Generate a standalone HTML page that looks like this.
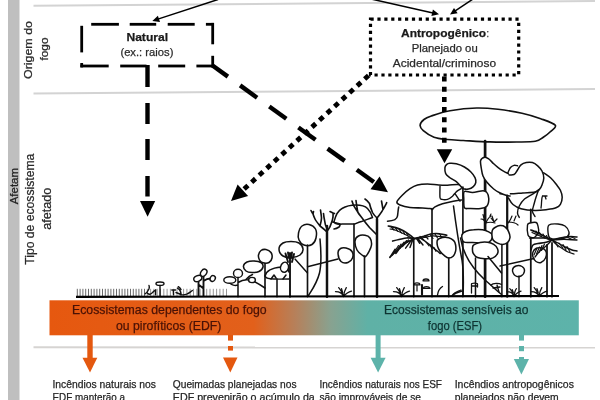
<!DOCTYPE html>
<html><head><meta charset="utf-8"><style>
html,body{margin:0;padding:0;background:#fff;width:600px;height:400px;overflow:hidden}
svg{display:block;will-change:transform}
</style></head><body>
<svg width="600" height="400" viewBox="0 0 600 400">
<rect x="8" y="0" width="11.5" height="400" fill="#bfbfbf"/>
<line x1="33.5" y1="5.8" x2="595" y2="1" stroke="#d3d3d3" stroke-width="2"/>
<line x1="33.5" y1="93.5" x2="595" y2="89" stroke="#d3d3d3" stroke-width="2"/>
<line x1="33.5" y1="347.3" x2="595" y2="347.5" stroke="#d6d4d2" stroke-width="2"/>
<path d="M77.3,288.8 L77.3,296 M80.1,288.8 L80.1,296 M82.9,288.8 L82.9,296 M85.7,288.8 L85.7,296 M88.5,288.8 L88.5,296 M91.3,288.8 L91.3,296 M94.1,288.8 L94.1,296 M96.9,288.8 L96.9,296 M99.7,288.8 L99.7,296 M102.5,288.8 L102.5,296 M105.3,288.8 L105.3,296 M108.1,288.8 L108.1,296 M110.9,288.8 L110.9,296 M113.7,288.8 L113.7,296 M116.5,288.8 L116.5,296 M119.3,288.8 L119.3,296 M122.1,288.8 L122.1,296 M124.9,288.8 L124.9,296 M127.7,288.8 L127.7,296 M130.5,288.8 L130.5,296 M133.3,288.8 L133.3,296 M136.1,288.8 L136.1,296 M138.9,288.8 L138.9,296 M141.7,288.8 L141.7,296 M144.5,288.8 L144.5,296" stroke="#5a5a5a" stroke-width="0.9"/>
<path d="M147.3,288.8 L147.3,296 M150.6,288.8 L150.6,296 M153.9,288.8 L153.9,296 M157.2,288.8 L157.2,296 M160.5,288.8 L160.5,296 M163.8,288.8 L163.8,296 M167.1,288.8 L167.1,296 M170.4,288.8 L170.4,296 M173.7,288.8 L173.7,296 M177.0,288.8 L177.0,296 M180.3,288.8 L180.3,296 M183.6,288.8 L183.6,296 M186.9,288.8 L186.9,296 M190.2,288.8 L190.2,296 M193.5,288.8 L193.5,296 M196.8,288.8 L196.8,296 M200.1,288.8 L200.1,296 M203.4,288.8 L203.4,296 M206.7,288.8 L206.7,296 M210.0,288.8 L210.0,296 M213.3,288.8 L213.3,296 M216.6,288.8 L216.6,296 M219.9,288.8 L219.9,296 M223.2,288.8 L223.2,296 M226.5,288.8 L226.5,296" stroke="#8a8a8a" stroke-width="0.9"/>
<path d="M145.1,293.8 C146.5,293 147.8,291.5 148.9,289 C149.5,287.5 149.5,286.5 149,285.5 M147.5,293.3 C148.5,294.3 149.5,294.5 150.3,294.2 C151.5,293.8 152.5,292.5 154,291 C154.8,290.5 155.3,290.2 155.9,290 M155.6,290 L155.6,294.7" stroke="#111" stroke-width="1.42" fill="none" stroke-linecap="round" stroke-linejoin="round"/>
<ellipse cx="160" cy="283.7" rx="4" ry="1.7" transform="rotate(0 160 283.7)" stroke="#111" stroke-width="1.42" fill="#fff"/>
<line x1="160" y1="285.4" x2="160" y2="296" stroke="#111" stroke-width="1.42" stroke-linecap="round"/>
<path d="M171.8,290 L175.5,290 M173.3,290 L173.5,294.5 M177.4,288.1 C179,289 180,290 180.5,291.5 C181,293 181,294 181.1,294.7 C183,295 185,294.8 186.7,294.2 C188.5,293.5 189.5,292.7 190.5,291.9 C191.2,291.3 191.8,290.9 192.3,290.5 M178.3,286.7 C179.5,287.5 180.5,288.5 181,289.5 M176,292.5 L181,294.5" stroke="#111" stroke-width="1.42" fill="none" stroke-linecap="round" stroke-linejoin="round"/>
<path d="M198.5,296 L198.5,281.5 M203.5,296 L203.5,276.5 M198.5,284.5 L203.5,288.5 M203.5,281 C205.5,279.5 208,278.5 210.5,278.5" stroke="#111" stroke-width="1.89" fill="none" stroke-linecap="round" stroke-linejoin="round"/>
<ellipse cx="197.8" cy="278.5" rx="4.2" ry="2.8" transform="rotate(-25 197.8 278.5)" stroke="#111" stroke-width="1.42" fill="#fff"/>
<ellipse cx="203.7" cy="272.8" rx="2.8" ry="3.9" transform="rotate(35 203.7 272.8)" stroke="#111" stroke-width="1.42" fill="#fff"/>
<ellipse cx="212.7" cy="278.5" rx="2.5" ry="3" transform="rotate(30 212.7 278.5)" stroke="#111" stroke-width="1.42" fill="#fff"/>
<path d="M238,296.7 L238,277.5 M238,285 C235,286 231,285 230,283 M238,282.5 C242,280 246,279.5 249,280 M246,279.5 C248,277 251,275 252.5,274.5 M249,279 C254,281 259,284 265,288" stroke="#111" stroke-width="1.53" fill="none" stroke-linecap="round" stroke-linejoin="round"/>
<ellipse cx="229.8" cy="280" rx="6" ry="3.3" transform="rotate(0 229.8 280)" stroke="#111" stroke-width="1.42" fill="#fff"/>
<ellipse cx="238" cy="273.4" rx="4.5" ry="4.1" transform="rotate(0 238 273.4)" stroke="#111" stroke-width="1.42" fill="#fff"/>
<ellipse cx="252" cy="280" rx="3.4" ry="2.6" transform="rotate(0 252 280)" stroke="#111" stroke-width="1.42" fill="#fff"/>
<line x1="265" y1="296.7" x2="265" y2="262.5" stroke="#111" stroke-width="1.65" stroke-linecap="round"/>
<path d="M243.5,266.0 C243.7,264.5 245.2,262.8 247.0,262.0 C248.8,261.2 251.7,260.9 254.0,261.0 C256.3,261.1 259.5,261.5 261.0,262.5 C262.5,263.5 263.3,265.5 263.0,267.0 C262.7,268.5 260.8,270.6 259.0,271.5 C257.2,272.4 254.2,272.6 252.0,272.5 C249.8,272.4 247.4,272.1 246.0,271.0 C244.6,269.9 243.3,267.5 243.5,266.0Z" stroke="#111" stroke-width="1.53" fill="#fff" stroke-linecap="round" stroke-linejoin="round"/>
<path d="M258.5,255.0 C258.8,253.4 259.8,251.4 261.0,250.5 C262.2,249.6 264.3,249.2 266.0,249.5 C267.7,249.8 270.0,251.1 271.0,252.5 C272.0,253.9 272.3,256.3 272.0,258.0 C271.7,259.7 270.5,261.7 269.0,262.5 C267.5,263.3 264.6,263.2 263.0,262.8 C261.4,262.4 260.2,261.3 259.5,260.0 C258.8,258.7 258.2,256.6 258.5,255.0Z" stroke="#111" stroke-width="1.53" fill="#fff" stroke-linecap="round" stroke-linejoin="round"/>
<path d="M277,296.7 L277,279 M265,276 C266,271 272,268 281,267 C285,266 288,268 289,272 M271,279 L274,275 L276,278 M283,279 L286,275" stroke="#111" stroke-width="1.53" fill="none" stroke-linecap="round" stroke-linejoin="round"/>
<path d="M280.5,267.0 C280.8,265.6 281.9,263.5 283.0,262.8 C284.1,262.1 286.1,262.1 287.0,263.0 C287.9,263.9 288.8,266.5 288.5,268.0 C288.2,269.5 286.7,271.5 285.5,272.0 C284.3,272.5 282.3,271.8 281.5,271.0 C280.7,270.2 280.2,268.4 280.5,267.0Z" stroke="#111" stroke-width="1.42" fill="#fff" stroke-linecap="round" stroke-linejoin="round"/>
<path d="M265,276 C266,279 270,279.5 289,279" stroke="#111" stroke-width="1.42" fill="none" stroke-linecap="round" stroke-linejoin="round"/>
<path d="M279.0,249.0 C279.0,246.8 281.0,244.2 283.0,243.0 C285.0,241.8 288.3,241.5 291.0,241.5 C293.7,241.5 297.0,241.8 299.0,243.0 C301.0,244.2 302.8,247.0 303.0,249.0 C303.2,251.0 301.8,253.6 300.0,255.0 C298.2,256.4 294.8,257.3 292.0,257.5 C289.2,257.7 285.2,257.4 283.0,256.0 C280.8,254.6 279.0,251.2 279.0,249.0Z" stroke="#111" stroke-width="1.53" fill="#fff" stroke-linecap="round" stroke-linejoin="round"/>
<path d="M290,296.7 L290,253 M288,262 L285.5,253.5 M292,262 L294,254 M289,258 L288,252.5 M291,258 L292,252.5" stroke="#111" stroke-width="1.89" fill="none" stroke-linecap="round" stroke-linejoin="round"/>
<path d="M298.5,233.0 C299.0,230.7 300.2,227.4 302.0,226.0 C303.8,224.6 306.8,224.0 309.0,224.5 C311.2,225.0 314.3,226.8 315.5,229.0 C316.7,231.2 316.6,235.4 316.0,238.0 C315.4,240.6 314.0,243.3 312.0,244.5 C310.0,245.7 306.2,245.8 304.0,245.0 C301.8,244.2 299.9,242.0 299.0,240.0 C298.1,238.0 298.0,235.3 298.5,233.0Z" stroke="#111" stroke-width="1.53" fill="#fff" stroke-linecap="round" stroke-linejoin="round"/>
<line x1="307.5" y1="245" x2="307.5" y2="296.7" stroke="#111" stroke-width="1.65" stroke-linecap="round"/>
<line x1="295" y1="259" x2="307.5" y2="273" stroke="#111" stroke-width="1.42" stroke-linecap="round"/>
<path d="M320,239 C321,250 322,262 319.5,273 C317,283 312,290 308.5,295.5" stroke="#111" stroke-width="1.53" fill="none" stroke-linecap="round" stroke-linejoin="round"/>
<line x1="307.5" y1="266.7" x2="338" y2="259" stroke="#111" stroke-width="1.42" stroke-linecap="round"/>
<path d="M338.0,253.0 C337.9,250.8 339.2,249.3 340.5,248.5 C341.8,247.7 344.1,247.5 346.0,248.0 C347.9,248.5 350.9,249.8 352.0,251.5 C353.1,253.2 353.2,256.2 352.5,258.0 C351.8,259.8 349.9,261.9 348.0,262.5 C346.1,263.1 342.7,263.1 341.0,261.5 C339.3,259.9 338.1,255.2 338.0,253.0Z" stroke="#111" stroke-width="1.53" fill="#fff" stroke-linecap="round" stroke-linejoin="round"/>
<path d="M327,232 C324,229 322,227.5 320,226 C318,223.5 316,221 315,219 C314,217 313.5,215.5 313,214 C312,212.5 311.5,211.5 311,210.5 M313,214 L313.5,211.5 M320,226 C320.8,223 321.5,220.5 321.5,218 C321.3,215 320.8,212.5 320.5,210 M327,228.5 C325.5,226 324.8,223 324.5,220 C324,217.5 323.7,215.5 323.5,213.5 M328,230 C329.5,228 330.5,226 331,224 C332,221.5 332.8,219 333,217 C333.2,215.5 333.1,214.2 333,213 L330,211.5 M333,213 L334.5,213.5 M333,222 C335,223 337,223.3 340,224 C340.2,225.5 339.6,226.5 339,227 C337.5,228 336,228.8 334,229" stroke="#111" stroke-width="1.65" fill="none" stroke-linecap="round" stroke-linejoin="round"/>
<line x1="327" y1="296.7" x2="327" y2="226" stroke="#111" stroke-width="2.48" stroke-linecap="round"/>
<path d="M334,221.6 C336,214 339,210 342,208.5 C347,205.5 352,205 356,205 C361,205 365,206 367.5,208.5 C370,211 371.5,214 372.5,217.5 M334,221.6 C335,224 338,224.5 342,224 L354.7,224 C357,223 359,222 361.5,221.6 C365,220 369,219 372.5,217.5" stroke="#111" stroke-width="1.53" fill="none" stroke-linecap="round" stroke-linejoin="round"/>
<line x1="354" y1="224" x2="354" y2="296.7" stroke="#111" stroke-width="1.65" stroke-linecap="round"/>
<path d="M377,218 C380,214 382,212 383,209.5 C384.5,207 385.5,205 386.7,202.7 M383,209.5 L381.5,201 M377,218 C375,216 373.5,214.5 372.5,212.5 C371,209 370,206 369.5,203.5 C368,201.5 366.5,200 365,199 M377,235 C374,232 371.5,229.5 369.5,227.5 C367,224.5 365,222 363.5,220 C361.5,217 359.5,215 358,212.5 C356.5,210 355,208 353.7,205.7 C353,204 352.5,202.5 352,201 M358,212.5 C357,209 356.5,204 356,200.5" stroke="#111" stroke-width="1.65" fill="none" stroke-linecap="round" stroke-linejoin="round"/>
<line x1="377" y1="296.7" x2="377" y2="219" stroke="#111" stroke-width="2.48" stroke-linecap="round"/>
<path d="M387.5,221.3 C392,221 397,220 397.5,216 C398,213 398,210 398.7,207" stroke="#111" stroke-width="1.53" fill="none" stroke-linecap="round" stroke-linejoin="round"/>
<path d="M355.0,241.0 C355.2,238.7 356.8,236.9 358.5,236.0 C360.2,235.1 363.1,235.0 365.0,235.3 C366.9,235.6 368.9,236.4 370.0,238.0 C371.1,239.6 371.7,242.8 371.5,245.0 C371.3,247.2 370.0,249.6 369.0,251.5 C368.0,253.4 366.7,255.9 365.5,256.5 C364.3,257.1 363.4,256.1 362.0,255.0 C360.6,253.9 358.2,252.3 357.0,250.0 C355.8,247.7 354.8,243.3 355.0,241.0Z" stroke="#111" stroke-width="1.53" fill="#fff" stroke-linecap="round" stroke-linejoin="round"/>
<line x1="364.5" y1="256" x2="364.5" y2="296.7" stroke="#111" stroke-width="1.65" stroke-linecap="round"/>
<path d="M335.5,291.6 C339.5,291.6 342.5,293.6 343.5,296.6 M338.7,287.6 C341.1,290.6 343.0,293.6 343.5,296.6 M343.5,296.6 C344.0,292.6 345.0,289.6 346.3,287.6 M343.5,296.6 C346.7,292.6 349.1,291.6 351.5,291.1 M341.5,288.6 L342.7,292.6" stroke="#111" stroke-width="1.30" fill="none" stroke-linecap="round" stroke-linejoin="round"/>
<path d="M393.5,291.6 C397.5,291.6 400.5,293.6 401.5,296.6 M396.7,287.6 C399.1,290.6 401.0,293.6 401.5,296.6 M401.5,296.6 C402.0,292.6 403.0,289.6 404.3,287.6 M401.5,296.6 C404.7,292.6 407.1,291.6 409.5,291.1 M399.5,288.6 L400.7,292.6" stroke="#111" stroke-width="1.30" fill="none" stroke-linecap="round" stroke-linejoin="round"/>
<path d="M531,291.6 C535.0,291.6 538,293.6 539,296.6 M534.2,287.6 C536.6,290.6 538.5,293.6 539,296.6 M539,296.6 C539.5,292.6 540.5,289.6 541.8,287.6 M539,296.6 C542.2,292.6 544.6,291.6 547,291.1 M537.0,288.6 L538.2,292.6" stroke="#111" stroke-width="1.30" fill="none" stroke-linecap="round" stroke-linejoin="round"/>
<path d="M437.5,295 C438,291 440,288 442.5,286.5 M452,295.5 C455,293 458,292 462,291" stroke="#111" stroke-width="1.30" fill="none" stroke-linecap="round" stroke-linejoin="round"/>
<path d="M462.5,185.6 C461.7,185.4 460.0,184.5 457.5,184.4 C455.0,184.3 450.6,185.1 447.5,185.2 C444.4,185.3 442.0,185.2 438.7,185.0 C435.4,184.8 431.0,184.0 427.5,184.0 C424.0,184.0 420.4,184.2 417.5,185.0 C414.6,185.8 412.5,187.0 410.0,188.7 C407.5,190.4 404.7,192.8 402.5,195.0 C400.3,197.2 397.3,200.2 396.9,201.9 C396.5,203.6 397.8,204.1 400.0,205.0 C402.2,205.9 406.2,207.0 410.0,207.5 C413.8,208.0 419.2,207.8 422.5,208.0 C425.8,208.2 428.4,208.2 430.0,208.5 C431.6,208.8 431.9,209.3 432.3,209.5" stroke="#111" stroke-width="1.53" fill="none" stroke-linecap="round" stroke-linejoin="round"/>
<path d="M432.3,209.5 C432.8,209.1 433.3,207.9 435.0,206.9 C436.7,205.9 440.0,204.5 442.5,203.7 C445.0,202.9 447.5,202.4 450.0,201.9 C452.5,201.4 455.6,200.9 457.5,200.6 C459.4,200.3 460.8,200.1 461.5,200.0" stroke="#111" stroke-width="1.53" fill="none" stroke-linecap="round" stroke-linejoin="round"/>
<path d="M440.0,186.3 C440.0,188.2 439.7,195.3 440.0,197.5 C440.3,199.7 440.6,199.1 441.9,199.4 C443.1,199.7 445.7,199.9 447.5,199.4 C449.3,198.9 451.1,197.4 452.5,196.2 C453.9,194.9 454.8,193.2 456.2,191.9 C457.6,190.7 460.4,189.2 461.2,188.7" stroke="#111" stroke-width="1.42" fill="none" stroke-linecap="round" stroke-linejoin="round"/>
<path d="M455,193.7 L460,201.2" stroke="#111" stroke-width="1.42" fill="none" stroke-linecap="round" stroke-linejoin="round"/>
<line x1="432" y1="208.5" x2="432" y2="296.7" stroke="#111" stroke-width="1.65" stroke-linecap="round"/>
<path d="M413.7,238.4 C413.1,237.9 411.7,236.5 410.0,235.2 C408.3,233.9 405.8,232.1 403.4,230.8 C401.0,229.5 398.3,228.4 395.8,227.6 C393.3,226.8 389.6,226.3 388.3,226.0" stroke="#111" stroke-width="1.65" fill="none" stroke-linecap="round" stroke-linejoin="round"/>
<path d="M412.7,238.9 C412.1,238.5 410.8,237.5 409.0,236.5 C407.2,235.5 404.3,234.1 402.0,233.0 C399.7,231.9 397.0,230.7 395.0,230.0 C393.0,229.3 390.8,229.2 390.0,229.0" stroke="#111" stroke-width="1.18" fill="none" stroke-linecap="round" stroke-linejoin="round"/>
<path d="M391,226.5 L394,230 M395,227.5 L398,231.5 M399,229 L401.5,233 M403,231 L405,234.5 M406.5,233 L408,236" stroke="#111" stroke-width="1.18" fill="none" stroke-linecap="round" stroke-linejoin="round"/>
<path d="M413.7,238.4 C412.5,238.3 409.1,237.7 406.7,237.9 C404.2,238.1 401.4,239.0 399.0,239.5 C396.6,240.0 393.7,240.8 392.6,241.1" stroke="#111" stroke-width="1.53" fill="none" stroke-linecap="round" stroke-linejoin="round"/>
<path d="M413.7,239.4 C412.2,240.0 407.8,241.2 405.0,243.0 C402.2,244.8 399.5,247.9 397.0,250.3 C394.5,252.7 391.1,256.2 389.9,257.4" stroke="#111" stroke-width="1.53" fill="none" stroke-linecap="round" stroke-linejoin="round"/>
<path d="M412.7,239.4 C411.1,240.3 405.8,242.6 403.0,245.0 C400.2,247.4 397.0,252.2 395.8,253.6" stroke="#111" stroke-width="1.30" fill="none" stroke-linecap="round" stroke-linejoin="round"/>
<path d="M390,257 L395,249 M392.5,255 L398.5,245.5 M395,253.5 L401,244 M397.5,251 L404,242 M400,248.5 L406.5,240.5 M402.5,246.5 L408.5,240" stroke="#111" stroke-width="1.18" fill="none" stroke-linecap="round" stroke-linejoin="round"/>
<path d="M411.5,240 L405.6,248.2 M412.5,240.5 L410,247.5" stroke="#111" stroke-width="1.42" fill="none" stroke-linecap="round" stroke-linejoin="round"/>
<path d="M414.7,238.4 C416.2,238.1 421.4,237.0 424.0,236.3 C426.6,235.6 428.5,234.5 430.5,234.0 C432.5,233.5 434.4,233.5 436.0,233.5 C437.6,233.5 438.5,233.7 440.3,234.0 C442.1,234.3 445.7,235.0 446.8,235.2" stroke="#111" stroke-width="1.65" fill="none" stroke-linecap="round" stroke-linejoin="round"/>
<path d="M414.7,238.9 C416.2,238.7 421.1,238.0 424.0,237.5 C426.9,237.0 429.3,236.2 432.0,236.0 C434.7,235.8 437.7,236.3 440.0,236.5 C442.3,236.7 445.0,236.9 446.0,237.0" stroke="#111" stroke-width="1.18" fill="none" stroke-linecap="round" stroke-linejoin="round"/>
<path d="M420,236.5 L423,239.5 M425,235.5 L428,239 M430,234.5 L433,238.5 M435,234 L437.5,238 M440,234.5 L442,238" stroke="#111" stroke-width="1.18" fill="none" stroke-linecap="round" stroke-linejoin="round"/>
<path d="M416.4,238.4 L419.7,243.3 M417.5,238 L423,245 M420,238 C425,241 429,244 432.7,247 C434,248.5 435,249.5 436,250.3 M422,238.5 C428,244 435,249 440.3,253.6" stroke="#111" stroke-width="1.42" fill="none" stroke-linecap="round" stroke-linejoin="round"/>
<path d="M426,242 L429,246 M430,244.5 L432,249 M434,247.5 L436,251.5" stroke="#111" stroke-width="1.06" fill="none" stroke-linecap="round" stroke-linejoin="round"/>
<line x1="413.75" y1="238.1" x2="413.75" y2="296.7" stroke="#111" stroke-width="1.65" stroke-linecap="round"/>
<path d="M414,284.8 C414.5,282.3 419.5,282.3 420,284.8 Z M423,280.8 C423.5,278.4 428.5,278.4 429,280.8 Z M423,288.3 C424,286 429,286 430,288.3 Z" stroke="#111" stroke-width="1.30" fill="none" stroke-linecap="round" stroke-linejoin="round"/>
<line x1="422" y1="285" x2="422" y2="294.5" stroke="#111" stroke-width="2.12" stroke-linecap="round"/>
<line x1="417" y1="285" x2="417" y2="291" stroke="#111" stroke-width="1.18" stroke-linecap="round"/>
<path d="M437.5,240.0 C438.3,238.6 440.6,237.9 442.5,237.5 C444.4,237.1 446.8,237.2 448.7,237.7 C450.6,238.2 452.5,239.4 453.7,240.6 C454.9,241.8 455.3,243.2 455.6,245.0 C455.9,246.8 456.0,249.3 455.6,251.2 C455.2,253.1 454.2,255.0 453.1,256.2 C452.0,257.4 450.1,258.1 448.7,258.1 C447.3,258.1 446.4,257.4 445.0,256.2 C443.6,255.0 441.2,252.9 440.0,251.2 C438.8,249.5 437.9,248.1 437.5,246.2 C437.1,244.3 436.7,241.4 437.5,240.0Z" stroke="#111" stroke-width="1.53" fill="#fff" stroke-linecap="round" stroke-linejoin="round"/>
<line x1="448.75" y1="258" x2="448.75" y2="296.7" stroke="#111" stroke-width="1.65" stroke-linecap="round"/>
<path d="M453.5,206 C456,225 459,245 462,260 C463.5,270 463.5,285 463,296" stroke="#111" stroke-width="1.53" fill="none" stroke-linecap="round" stroke-linejoin="round"/>
<line x1="485.1" y1="141" x2="485.1" y2="296.7" stroke="#111" stroke-width="2.71" stroke-linecap="round"/>
<path d="M420.1,125.3 C420.2,123.4 422.1,121.0 424.0,119.5 C425.9,118.0 427.0,117.5 431.3,116.0 C435.6,114.5 442.4,112.0 450.0,110.7 C457.6,109.4 468.7,108.2 476.7,108.0 C484.7,107.8 490.4,108.4 498.0,109.3 C505.6,110.2 514.9,111.7 522.0,113.3 C529.1,114.9 535.2,116.7 540.7,118.7 C546.2,120.7 553.8,123.1 555.3,125.3 C556.8,127.5 552.0,130.0 550.0,132.0 C548.0,134.0 545.8,135.8 543.3,137.3 C540.8,138.9 539.7,140.5 535.3,141.3 C530.9,142.1 524.2,141.9 516.7,142.0 C509.2,142.1 498.9,142.2 490.0,141.9 C481.1,141.7 470.4,140.9 463.3,140.5 C456.2,140.1 452.2,140.0 447.3,139.5 C442.4,139.0 438.0,138.8 434.0,137.3 C430.0,135.8 425.6,132.7 423.3,130.7 C421.0,128.7 420.0,127.2 420.1,125.3Z" stroke="#111" stroke-width="1.65" fill="none" stroke-linecap="round" stroke-linejoin="round"/>
<path d="M446.5,164.6 C447.3,163.8 448.2,163.4 449.8,163.3 C451.4,163.2 453.9,163.2 456.3,163.8 C458.7,164.4 462.0,165.6 464.4,167.0 C466.8,168.4 469.1,170.2 470.9,172.0 C472.7,173.8 474.2,175.8 475.0,177.6 C475.8,179.3 476.1,181.0 475.8,182.5 C475.5,184.0 474.5,185.5 473.3,186.6 C472.1,187.7 470.1,188.7 468.5,189.0 C466.9,189.3 464.9,189.1 463.6,188.7 C462.4,188.3 462.2,187.8 461.0,186.6 C459.8,185.4 458.2,183.2 456.3,181.7 C454.4,180.2 451.6,178.9 449.8,177.6 C448.0,176.2 446.5,175.2 445.7,173.6 C444.9,172.0 444.8,169.4 444.9,167.9 C445.0,166.4 445.7,165.4 446.5,164.6Z" stroke="#111" stroke-width="1.53" fill="#fff" stroke-linecap="round" stroke-linejoin="round"/>
<line x1="462.9" y1="187" x2="462.9" y2="296.7" stroke="#111" stroke-width="1.65" stroke-linecap="round"/>
<path d="M464.4,191.5 C465.8,190.4 469.4,192.7 472.5,192.6 C475.6,192.5 480.6,190.7 483.0,190.7 C485.4,190.7 486.0,191.2 487.0,192.6 C488.0,193.9 488.8,196.6 488.8,198.8 C488.8,201.0 488.4,204.4 487.0,206.0 C485.6,207.6 483.6,208.1 480.6,208.5 C477.7,208.9 472.0,208.6 469.3,208.5 C466.6,208.4 465.3,209.3 464.4,207.7 C463.5,206.1 463.8,201.7 463.8,199.0 C463.8,196.3 462.9,192.6 464.4,191.5Z" stroke="#111" stroke-width="1.53" fill="#fff" stroke-linecap="round" stroke-linejoin="round"/>
<path d="M543.8,172.8 C545.0,173.7 548.8,176.1 550.8,178.0 C552.8,179.9 554.4,181.9 556.0,184.0 C557.6,186.1 559.4,188.1 560.4,190.3 C561.4,192.5 562.2,195.0 562.2,197.3 C562.2,199.6 561.4,202.6 560.4,204.3 C559.4,206.1 558.2,206.9 556.0,207.8 C553.8,208.7 550.8,209.1 547.3,209.5 C543.8,209.9 539.4,210.5 535.0,210.4 C530.6,210.3 524.7,209.7 521.0,208.7 C517.3,207.7 515.1,206.3 513.0,204.5 C510.9,202.7 509.2,199.1 508.5,198.0" stroke="#111" stroke-width="1.53" fill="#fff" stroke-linecap="round" stroke-linejoin="round"/>
<path d="M500.0,171.9 C501.2,172.3 504.7,174.1 507.0,174.5 C509.3,174.9 512.2,175.2 514.0,174.5 C515.8,173.8 516.3,171.6 517.5,170.0 C518.7,168.4 519.5,166.1 521.0,164.9 C522.5,163.7 524.4,163.0 526.3,162.6 C528.2,162.2 530.5,162.1 532.4,162.6 C534.3,163.1 536.1,164.4 537.7,165.8 C539.3,167.2 541.0,169.0 542.0,171.0 C543.0,173.0 543.8,175.7 543.8,178.0 C543.8,180.3 542.7,183.1 542.0,185.0 C541.3,186.9 540.6,188.2 539.4,189.4 C538.2,190.6 537.8,191.4 535.0,192.0 C532.2,192.6 526.9,192.6 522.8,192.9 C518.7,193.2 514.3,193.7 510.5,193.8 C506.7,194.0 501.8,193.8 500.0,193.8" stroke="#111" stroke-width="1.53" fill="#fff" stroke-linecap="round" stroke-linejoin="round"/>
<path d="M507.9,172.8 C508.3,171.9 509.5,168.7 510.5,167.5 C511.5,166.3 512.8,165.7 514.0,165.4 C515.2,165.1 516.9,165.7 517.5,165.8" stroke="#111" stroke-width="1.42" fill="none" stroke-linecap="round" stroke-linejoin="round"/>
<path d="M508.3,173.6 C507.5,173.2 505.0,172.0 503.4,171.1 C501.8,170.2 500.1,169.1 498.5,167.9 C496.9,166.7 495.3,165.3 493.7,163.8 C492.1,162.3 490.3,160.1 488.8,159.0 C487.3,157.9 486.1,157.0 484.7,157.3 C483.3,157.6 481.1,158.6 480.6,160.6 C480.1,162.6 481.1,166.9 481.5,169.5 C481.9,172.1 482.1,173.8 483.0,176.0 C483.9,178.2 485.4,180.3 487.2,182.5 C489.0,184.7 491.5,187.2 493.7,189.0 C495.9,190.8 498.0,191.9 500.2,193.0 C502.4,194.1 505.1,195.0 506.7,195.5 C508.3,196.0 509.4,195.9 510.0,196.0" stroke="#111" stroke-width="1.53" fill="#fff" stroke-linecap="round" stroke-linejoin="round"/>
<line x1="507.2" y1="195.5" x2="507.2" y2="296.7" stroke="#111" stroke-width="2.24" stroke-linecap="round"/>
<line x1="530.8" y1="209.5" x2="530.8" y2="296.7" stroke="#111" stroke-width="1.77" stroke-linecap="round"/>
<path d="M539.4,189.4 C538.3,190.1 535.5,192.2 533.0,193.8 C530.5,195.4 526.8,197.0 524.5,199.0 C522.2,201.0 520.5,203.7 519.3,206.0 C518.1,208.3 517.5,211.1 517.5,213.0 C517.5,214.9 519.0,216.7 519.3,217.4" stroke="#111" stroke-width="1.42" fill="none" stroke-linecap="round" stroke-linejoin="round"/>
<path d="M538.5,190.0 C538.1,191.2 536.8,194.9 536.0,197.3 C535.2,199.7 534.6,202.0 534.0,204.3 C533.4,206.6 532.2,209.3 532.4,211.3 C532.6,213.3 534.6,215.6 535.0,216.5" stroke="#111" stroke-width="1.42" fill="none" stroke-linecap="round" stroke-linejoin="round"/>
<path d="M541,208 C542,203 541,199 542.5,196 M542.5,196 L547,196 M545,196 L546,199" stroke="#111" stroke-width="1.30" fill="none" stroke-linecap="round" stroke-linejoin="round"/>
<path d="M481,219 C484,219 485,221 485.5,224 M483,214.5 L485,222 M485.5,224 C487,220 489,217 491,216 M485.5,223 C489,222 492,222 495,223 M490,216 L491,214" stroke="#111" stroke-width="1.18" fill="none" stroke-linecap="round" stroke-linejoin="round"/>
<path d="M508,223 C510,221 511,219 512,216 M508,222 C512,222 515,222 518,225 M514,221 L516,216" stroke="#111" stroke-width="1.18" fill="none" stroke-linecap="round" stroke-linejoin="round"/>
<path d="M491,218 L494,222 L497,219 M494,222 L492,216" stroke="#111" stroke-width="1.18" fill="none" stroke-linecap="round" stroke-linejoin="round"/>
<path d="M461.9,235.0 C462.3,233.2 464.2,232.1 466.2,231.2 C468.2,230.3 471.0,229.9 473.7,229.7 C476.4,229.4 480.0,229.3 482.5,229.7 C485.0,230.1 487.0,231.0 488.7,231.9 C490.4,232.8 492.1,233.7 492.5,235.0 C492.9,236.3 492.2,238.7 491.2,240.0 C490.1,241.3 489.3,242.7 486.2,243.1 C483.1,243.5 476.2,242.7 472.5,242.5 C468.8,242.3 465.5,243.2 463.7,241.9 C461.9,240.7 461.5,236.8 461.9,235.0Z" stroke="#111" stroke-width="1.53" fill="#fff" stroke-linecap="round" stroke-linejoin="round"/>
<path d="M473.7,245.0 C474.9,244.1 477.7,243.0 480.0,242.5 C482.3,242.0 485.2,241.9 487.5,242.2 C489.8,242.5 492.0,243.3 493.7,244.4 C495.4,245.5 496.9,247.1 497.5,248.7 C498.1,250.2 498.3,252.1 497.5,253.7 C496.7,255.3 494.6,257.3 492.5,258.1 C490.4,258.9 487.5,258.8 485.0,258.7 C482.5,258.6 479.5,258.4 477.5,257.5 C475.5,256.6 473.9,254.7 473.1,253.1 C472.3,251.5 472.4,249.4 472.5,248.1 C472.6,246.8 472.4,245.9 473.7,245.0Z" stroke="#111" stroke-width="1.53" fill="#fff" stroke-linecap="round" stroke-linejoin="round"/>
<path d="M492.5,230.0 C493.0,228.8 493.8,228.2 495.0,227.5 C496.2,226.8 498.3,225.7 500.0,225.6 C501.7,225.5 503.6,225.8 505.0,226.9 C506.4,228.0 507.9,230.1 508.7,231.9 C509.5,233.7 510.2,235.7 510.0,237.5 C509.8,239.3 508.8,241.3 507.5,242.5 C506.2,243.7 504.2,244.3 502.5,244.4 C500.8,244.5 499.1,243.8 497.5,243.1 C495.9,242.4 494.0,241.3 493.1,240.0 C492.2,238.7 492.0,236.7 491.9,235.0 C491.8,233.3 492.0,231.2 492.5,230.0Z" stroke="#111" stroke-width="1.53" fill="#fff" stroke-linecap="round" stroke-linejoin="round"/>
<line x1="501.9" y1="244.4" x2="501.9" y2="296.7" stroke="#111" stroke-width="1.53" stroke-linecap="round"/>
<path d="M512.5,270.0 C512.7,268.4 514.4,266.6 516.0,266.0 C517.6,265.4 520.6,265.7 522.0,266.5 C523.4,267.3 524.7,269.4 524.5,271.0 C524.3,272.6 522.6,275.2 521.0,276.0 C519.4,276.8 516.4,276.5 515.0,275.5 C513.6,274.5 512.3,271.6 512.5,270.0Z" stroke="#111" stroke-width="1.42" fill="#fff" stroke-linecap="round" stroke-linejoin="round"/>
<line x1="519" y1="276" x2="519" y2="296.7" stroke="#111" stroke-width="1.42" stroke-linecap="round"/>
<path d="M527.5,225.0 C527.8,223.0 528.5,223.4 530.0,223.0 C531.5,222.6 534.9,222.0 536.2,222.5 C537.5,223.0 537.6,224.6 538.0,226.2 C538.4,227.8 539.0,230.2 538.5,232.0 C538.0,233.8 536.2,236.1 535.0,237.0 C533.8,237.9 532.4,237.8 531.2,237.5 C530.0,237.2 528.6,237.1 528.0,235.0 C527.4,232.9 527.2,227.0 527.5,225.0Z" stroke="#111" stroke-width="1.42" fill="#fff" stroke-linecap="round" stroke-linejoin="round"/>
<path d="M529.5,238 L545,238" stroke="#111" stroke-width="1.30" fill="none" stroke-linecap="round" stroke-linejoin="round"/>
<path d="M549.0,225.0 C550.7,223.7 555.3,223.8 558.0,224.0 C560.7,224.2 563.2,224.7 565.0,226.0 C566.8,227.3 568.7,230.2 569.0,232.0 C569.3,233.8 568.7,235.8 567.0,237.0 C565.3,238.2 561.8,238.8 559.0,239.0 C556.2,239.2 551.8,239.2 550.0,238.0 C548.2,236.8 548.2,234.2 548.0,232.0 C547.8,229.8 547.3,226.3 549.0,225.0Z" stroke="#111" stroke-width="1.42" fill="#fff" stroke-linecap="round" stroke-linejoin="round"/>
<line x1="547" y1="245" x2="547" y2="296.7" stroke="#111" stroke-width="1.77" stroke-linecap="round"/>
<line x1="552" y1="243" x2="552" y2="296.7" stroke="#111" stroke-width="1.77" stroke-linecap="round"/>
<line x1="475.5" y1="258" x2="475.5" y2="296.7" stroke="#111" stroke-width="1.53" stroke-linecap="round"/>
<path d="M460.5,238 C463,255 472,268 485,280 C492,286 497,291 501.5,294.5" stroke="#111" stroke-width="1.53" fill="none" stroke-linecap="round" stroke-linejoin="round"/>
<line x1="488" y1="256.5" x2="501.5" y2="273" stroke="#111" stroke-width="1.53" stroke-linecap="round"/>
<path d="M471.5,293 L471.5,284 C471.5,282.8 477.5,282.8 477.5,284 L477.5,287 M471.5,286 L477.5,286" stroke="#111" stroke-width="1.30" fill="none" stroke-linecap="round" stroke-linejoin="round"/>
<path d="M491,285 C493,283 499,283 501.5,284.5 M493,288 L500,287 M497,285 L499,292" stroke="#111" stroke-width="1.30" fill="none" stroke-linecap="round" stroke-linejoin="round"/>
<path d="M453,294.5 C455,292 458,291.5 461,290" stroke="#111" stroke-width="1.30" fill="none" stroke-linecap="round" stroke-linejoin="round"/>
<path d="M533.0,252.0 C533.5,250.6 534.5,249.2 536.0,248.5 C537.5,247.8 540.3,247.5 542.0,248.0 C543.7,248.5 545.4,249.8 546.0,251.5 C546.6,253.2 546.3,256.2 545.5,258.0 C544.7,259.8 542.6,261.9 541.0,262.5 C539.4,263.1 537.3,262.4 536.0,261.5 C534.7,260.6 533.5,258.6 533.0,257.0 C532.5,255.4 532.5,253.4 533.0,252.0Z" stroke="#111" stroke-width="1.42" fill="#fff" stroke-linecap="round" stroke-linejoin="round"/>
<path d="M531.0,230.0 C532.2,230.5 535.7,231.9 538.0,233.0 C540.3,234.1 542.7,235.3 545.0,236.5 C547.3,237.7 550.8,239.4 552.0,240.0" stroke="#111" stroke-width="1.77" fill="none" stroke-linecap="round" stroke-linejoin="round"/>
<path d="M532.0,232.5 C533.2,233.0 536.7,234.5 539.0,235.5 C541.3,236.5 543.8,237.7 546.0,238.5 C548.2,239.3 551.0,240.2 552.0,240.5" stroke="#111" stroke-width="1.18" fill="none" stroke-linecap="round" stroke-linejoin="round"/>
<path d="M536,231 L538,235 M539.5,232.5 L541.5,236.5 M543,234 L545,238 M546.5,235.5 L548,239" stroke="#111" stroke-width="1.18" fill="none" stroke-linecap="round" stroke-linejoin="round"/>
<path d="M552.0,240.0 C553.0,239.8 555.8,239.0 558.0,238.5 C560.2,238.0 562.8,237.3 565.0,237.0 C567.2,236.7 569.0,236.5 571.0,236.5 C573.0,236.5 576.0,236.9 577.0,237.0" stroke="#111" stroke-width="1.53" fill="none" stroke-linecap="round" stroke-linejoin="round"/>
<path d="M552.0,240.0 C553.3,239.9 557.3,239.6 560.0,239.5 C562.7,239.4 565.2,239.4 568.0,239.5 C570.8,239.6 575.5,239.9 577.0,240.0" stroke="#111" stroke-width="1.30" fill="none" stroke-linecap="round" stroke-linejoin="round"/>
<path d="M570,236.5 L575,238.5 M567,237 L572,239.5" stroke="#111" stroke-width="1.06" fill="none" stroke-linecap="round" stroke-linejoin="round"/>
<path d="M552.0,240.0 C553.0,240.5 555.8,241.8 558.0,243.0 C560.2,244.2 562.7,245.8 565.0,247.0 C567.3,248.2 570.0,249.3 572.0,250.0 C574.0,250.7 576.2,250.8 577.0,251.0" stroke="#111" stroke-width="1.42" fill="none" stroke-linecap="round" stroke-linejoin="round"/>
<path d="M552.0,240.0 C552.7,240.7 554.2,242.5 556.0,244.0 C557.8,245.5 561.0,247.7 563.0,249.0 C565.0,250.3 566.2,251.2 568.0,252.0 C569.8,252.8 573.0,253.7 574.0,254.0" stroke="#111" stroke-width="1.30" fill="none" stroke-linecap="round" stroke-linejoin="round"/>
<path d="M555,242 L558,247 M559,243 L563,248 M563,244.5 L566,250 M567,246.5 L570,252" stroke="#111" stroke-width="1.18" fill="none" stroke-linecap="round" stroke-linejoin="round"/>
<path d="M552.0,240.0 C550.8,240.4 547.3,241.9 545.0,242.5 C542.7,243.1 540.0,243.1 538.0,243.5 C536.0,243.9 534.2,243.9 533.0,245.0 C531.8,246.1 531.3,249.2 531.0,250.0" stroke="#111" stroke-width="1.53" fill="none" stroke-linecap="round" stroke-linejoin="round"/>
<path d="M551.0,241.0 C550.2,241.8 547.8,244.3 546.0,246.0 C544.2,247.7 541.8,249.2 540.0,251.0 C538.2,252.8 535.8,256.0 535.0,257.0" stroke="#111" stroke-width="1.30" fill="none" stroke-linecap="round" stroke-linejoin="round"/>
<path d="M534,255 L537,248 M536.5,254 L539.5,247 M539,252.5 L542,245.5 M541.5,250.5 L544.5,244" stroke="#111" stroke-width="1.18" fill="none" stroke-linecap="round" stroke-linejoin="round"/>
<line x1="500" y1="266" x2="534" y2="258.5" stroke="#111" stroke-width="1.30" stroke-linecap="round"/>
<path d="M507,291.6 C510.5,291.6 513,293.6 514,296.6 M509.8,288.6 C511.9,290.6 513.5,293.6 514,296.6 M514,296.6 C514.5,292.6 515.5,289.6 516.45,288.6 M514,296.6 C516.8,292.6 518.9,291.6 521,291.1 M512.25,289.6 L513.3,292.6" stroke="#111" stroke-width="1.30" fill="none" stroke-linecap="round" stroke-linejoin="round"/>
<line x1="76" y1="296.8" x2="559" y2="296" stroke="#000" stroke-width="2.2"/>
<line x1="91.2" y1="24.3" x2="118.9" y2="24.3" stroke="#000" stroke-width="2.8"/>
<line x1="129.7" y1="24.3" x2="156.2" y2="24.3" stroke="#000" stroke-width="2.8"/>
<line x1="167.7" y1="24.3" x2="194.7" y2="24.3" stroke="#000" stroke-width="2.8"/>
<line x1="205.9" y1="24.3" x2="213.9" y2="24.3" stroke="#000" stroke-width="2.8"/>
<line x1="80.4" y1="66" x2="108.7" y2="66" stroke="#000" stroke-width="2.8"/>
<line x1="120.2" y1="66" x2="146.5" y2="66" stroke="#000" stroke-width="2.8"/>
<line x1="158.2" y1="66" x2="185.2" y2="66" stroke="#000" stroke-width="2.8"/>
<line x1="196.4" y1="66" x2="213.9" y2="66" stroke="#000" stroke-width="2.8"/>
<line x1="81.7" y1="25.8" x2="81.7" y2="52.4" stroke="#000" stroke-width="2.8"/>
<line x1="212.7" y1="22.9" x2="212.7" y2="44.3" stroke="#000" stroke-width="2.8"/>
<line x1="212.7" y1="55.8" x2="212.7" y2="67.4" stroke="#000" stroke-width="2.8"/>
<line x1="81.7" y1="63" x2="81.7" y2="67.4" stroke="#000" stroke-width="2.8"/>
<line x1="147.5" y1="65" x2="147.5" y2="87" stroke="#000" stroke-width="4.4"/>
<line x1="147.5" y1="103" x2="147.5" y2="124" stroke="#000" stroke-width="4.4"/>
<line x1="147.5" y1="139" x2="147.5" y2="160" stroke="#000" stroke-width="4.4"/>
<line x1="147.5" y1="176" x2="147.5" y2="196.5" stroke="#000" stroke-width="4.4"/>
<polygon points="140,201 155.2,201 147.6,216.8" fill="#000"/>
<line x1="212.5" y1="65.5" x2="227.9" y2="76.6" stroke="#000" stroke-width="4.4"/>
<line x1="240.1" y1="85.4" x2="257.1" y2="97.7" stroke="#000" stroke-width="4.4"/>
<line x1="269.3" y1="106.5" x2="286.3" y2="118.8" stroke="#000" stroke-width="4.4"/>
<line x1="298.4" y1="127.5" x2="315.5" y2="139.8" stroke="#000" stroke-width="4.4"/>
<line x1="327.6" y1="148.6" x2="344.7" y2="160.9" stroke="#000" stroke-width="4.4"/>
<line x1="356.8" y1="169.7" x2="373.8" y2="182.0" stroke="#000" stroke-width="4.4"/>
<polygon points="388,192.2 370.5,189.2 379.6,176.5" fill="#000"/>
<rect x="370.5" y="19.2" width="148.2" height="55.8" fill="none" stroke="#000" stroke-width="3.2" stroke-dasharray="3.2 3.7"/>
<line x1="444.3" y1="76.5" x2="444.3" y2="147" stroke="#000" stroke-width="4.6" stroke-dasharray="5 5.2"/>
<polygon points="436.8,149.3 452.2,149.3 444.5,163.3" fill="#000"/>
<line x1="368.5" y1="75.5" x2="241.3" y2="191.6" stroke="#000" stroke-width="4.8" stroke-dasharray="5.2 5"/>
<polygon points="231,201 237.6,184.5 248.1,196.0" fill="#000"/>
<line x1="218" y1="-0.5" x2="157.1" y2="19.4" stroke="#000" stroke-width="1.5"/>
<polygon points="152.3,21 157.9,15.7 160.0,22.0" fill="#000"/>
<line x1="371" y1="-1" x2="434.1" y2="13.2" stroke="#000" stroke-width="1.5"/>
<polygon points="439,14.3 431.4,16.0 432.9,9.5" fill="#000"/>
<line x1="473" y1="-1" x2="454.1" y2="11.7" stroke="#000" stroke-width="1.5"/>
<polygon points="450,14.5 454.0,7.9 457.6,13.3" fill="#000"/>
<defs><linearGradient id="g" x1="49.5" y1="0" x2="580" y2="0" gradientUnits="userSpaceOnUse">
<stop offset="0" stop-color="#e6580f"/><stop offset="0.385" stop-color="#e2601b"/>
<stop offset="0.465" stop-color="#b5815c"/><stop offset="0.53" stop-color="#88a290"/><stop offset="0.6" stop-color="#5fb1a6"/><stop offset="1" stop-color="#5db3aa"/>
</linearGradient></defs>
<rect x="49.5" y="300.3" width="529.3" height="35" fill="url(#g)"/>
<rect x="87.3" y="335" width="5.4" height="23" fill="#e4580f"/>
<polygon points="82.5,357.7 97.3,357.7 90,372.5" fill="#e4580f"/>
<rect x="228" y="335" width="5" height="5.6" fill="#e4580f"/><rect x="228" y="346" width="5" height="4.6" fill="#e4580f"/>
<polygon points="223,357.5 237.5,357.5 230.3,372.5" fill="#e4580f"/>
<rect x="375.6" y="335" width="5" height="23" fill="#5db3aa"/>
<polygon points="370.6,357.7 385.6,357.7 378.1,372.5" fill="#5db3aa"/>
<rect x="519" y="335" width="5" height="5.6" fill="#5db3aa"/><rect x="519" y="346" width="5" height="5.2" fill="#5db3aa"/><rect x="519" y="357" width="5" height="2" fill="#5db3aa"/>
<polygon points="513.8,359 529,359 521.4,374.4" fill="#5db3aa"/>
<text x="126.4" y="41.3" font-family="Liberation Sans, sans-serif" font-size="11.4" font-weight="bold" fill="#1a1a1a" stroke="#1a1a1a" stroke-width="0.25" textLength="41.7" lengthAdjust="spacingAndGlyphs">Natural</text>
<text x="120.4" y="56.4" font-family="Liberation Sans, sans-serif" font-size="11.4" fill="#2a2a2a" stroke="#2a2a2a" stroke-width="0.25" textLength="53" lengthAdjust="spacingAndGlyphs">(ex.: raios)</text>
<text x="401" y="36.8" font-family="Liberation Sans, sans-serif" font-size="11.0" font-weight="bold" fill="#1a1a1a" stroke="#1a1a1a" stroke-width="0.25" textLength="85" lengthAdjust="spacingAndGlyphs">Antropog&#234;nico</text>
<text x="486.5" y="36.8" font-family="Liberation Sans, sans-serif" font-size="11.0" fill="#2a2a2a" stroke="#2a2a2a" stroke-width="0.25" textLength="2.5" lengthAdjust="spacingAndGlyphs">:</text>
<text x="411.7" y="52.3" font-family="Liberation Sans, sans-serif" font-size="11.0" fill="#2a2a2a" stroke="#2a2a2a" stroke-width="0.25" textLength="66" lengthAdjust="spacingAndGlyphs">Planejado ou</text>
<text x="392.8" y="67" font-family="Liberation Sans, sans-serif" font-size="11.0" fill="#2a2a2a" stroke="#2a2a2a" stroke-width="0.25" textLength="103.2" lengthAdjust="spacingAndGlyphs">Acidental/criminoso</text>
<text x="72" y="313.6" font-family="Liberation Sans, sans-serif" font-size="13.0" fill="#4a1206" stroke="#4a1206" stroke-width="0.25" textLength="194.7" lengthAdjust="spacingAndGlyphs">Ecossistemas dependentes do fogo</text>
<text x="116" y="330.4" font-family="Liberation Sans, sans-serif" font-size="13.0" fill="#4a1206" stroke="#4a1206" stroke-width="0.25" textLength="105.3" lengthAdjust="spacingAndGlyphs">ou pirof&#237;ticos (EDF)</text>
<text x="384" y="313.5" font-family="Liberation Sans, sans-serif" font-size="13.0" fill="#0e3432" stroke="#0e3432" stroke-width="0.25" textLength="144.5" lengthAdjust="spacingAndGlyphs">Ecossistemas sens&#237;veis ao</text>
<text x="427.8" y="330.4" font-family="Liberation Sans, sans-serif" font-size="13.0" fill="#0e3432" stroke="#0e3432" stroke-width="0.25" textLength="54.2" lengthAdjust="spacingAndGlyphs">fogo (ESF)</text>
<text x="52.5" y="387.8" font-family="Liberation Sans, sans-serif" font-size="10.6" fill="#262626" stroke="#262626" stroke-width="0.25" textLength="103.4" lengthAdjust="spacingAndGlyphs">Inc&#234;ndios naturais nos</text>
<text x="52.5" y="401.3" font-family="Liberation Sans, sans-serif" font-size="10.6" fill="#262626" stroke="#262626" stroke-width="0.25" textLength="72.5" lengthAdjust="spacingAndGlyphs">EDF manter&#227;o a</text>
<text x="172.8" y="387.8" font-family="Liberation Sans, sans-serif" font-size="10.6" fill="#262626" stroke="#262626" stroke-width="0.25" textLength="123.7" lengthAdjust="spacingAndGlyphs">Queimadas planejadas nos</text>
<text x="172.8" y="401.3" font-family="Liberation Sans, sans-serif" font-size="10.6" fill="#262626" stroke="#262626" stroke-width="0.25" textLength="142" lengthAdjust="spacingAndGlyphs">EDF prevenir&#227;o o ac&#250;mulo da</text>
<text x="319.5" y="387.8" font-family="Liberation Sans, sans-serif" font-size="10.6" fill="#262626" stroke="#262626" stroke-width="0.25" textLength="122.5" lengthAdjust="spacingAndGlyphs">Inc&#234;ndios naturais nos ESF</text>
<text x="319.5" y="401.3" font-family="Liberation Sans, sans-serif" font-size="10.6" fill="#262626" stroke="#262626" stroke-width="0.25" textLength="101.5" lengthAdjust="spacingAndGlyphs">s&#227;o improv&#225;veis de se</text>
<text x="454.7" y="387.8" font-family="Liberation Sans, sans-serif" font-size="10.6" fill="#262626" stroke="#262626" stroke-width="0.25" textLength="119.2" lengthAdjust="spacingAndGlyphs">Inc&#234;ndios antropog&#234;nicos</text>
<text x="454.7" y="401.3" font-family="Liberation Sans, sans-serif" font-size="10.6" fill="#262626" stroke="#262626" stroke-width="0.25" textLength="104" lengthAdjust="spacingAndGlyphs">planejados n&#227;o devem</text>
<text transform="translate(32.2,79) rotate(-90)" font-family="Liberation Sans, sans-serif" font-size="11.4" fill="#2a2a2a" stroke="#2a2a2a" stroke-width="0.25" textLength="58" lengthAdjust="spacingAndGlyphs">Origem do</text>
<text transform="translate(48.1,60.5) rotate(-90)" font-family="Liberation Sans, sans-serif" font-size="11.4" fill="#2a2a2a" stroke="#2a2a2a" stroke-width="0.25" textLength="23" lengthAdjust="spacingAndGlyphs">fogo</text>
<text transform="translate(34.4,264.8) rotate(-90)" font-family="Liberation Sans, sans-serif" font-size="12.7" fill="#2a2a2a" stroke="#2a2a2a" stroke-width="0.25" textLength="111.2" lengthAdjust="spacingAndGlyphs">Tipo de ecossistema</text>
<text transform="translate(50.8,229.7) rotate(-90)" font-family="Liberation Sans, sans-serif" font-size="12.5" fill="#2a2a2a" stroke="#2a2a2a" stroke-width="0.25" textLength="42" lengthAdjust="spacingAndGlyphs">afetado</text>
<text transform="translate(18.4,204.3) rotate(-90)" font-family="Liberation Sans, sans-serif" font-size="10.6" fill="#222" stroke="#222" stroke-width="0.25" textLength="36.3" lengthAdjust="spacingAndGlyphs">Afetam</text>
</svg></body></html>
